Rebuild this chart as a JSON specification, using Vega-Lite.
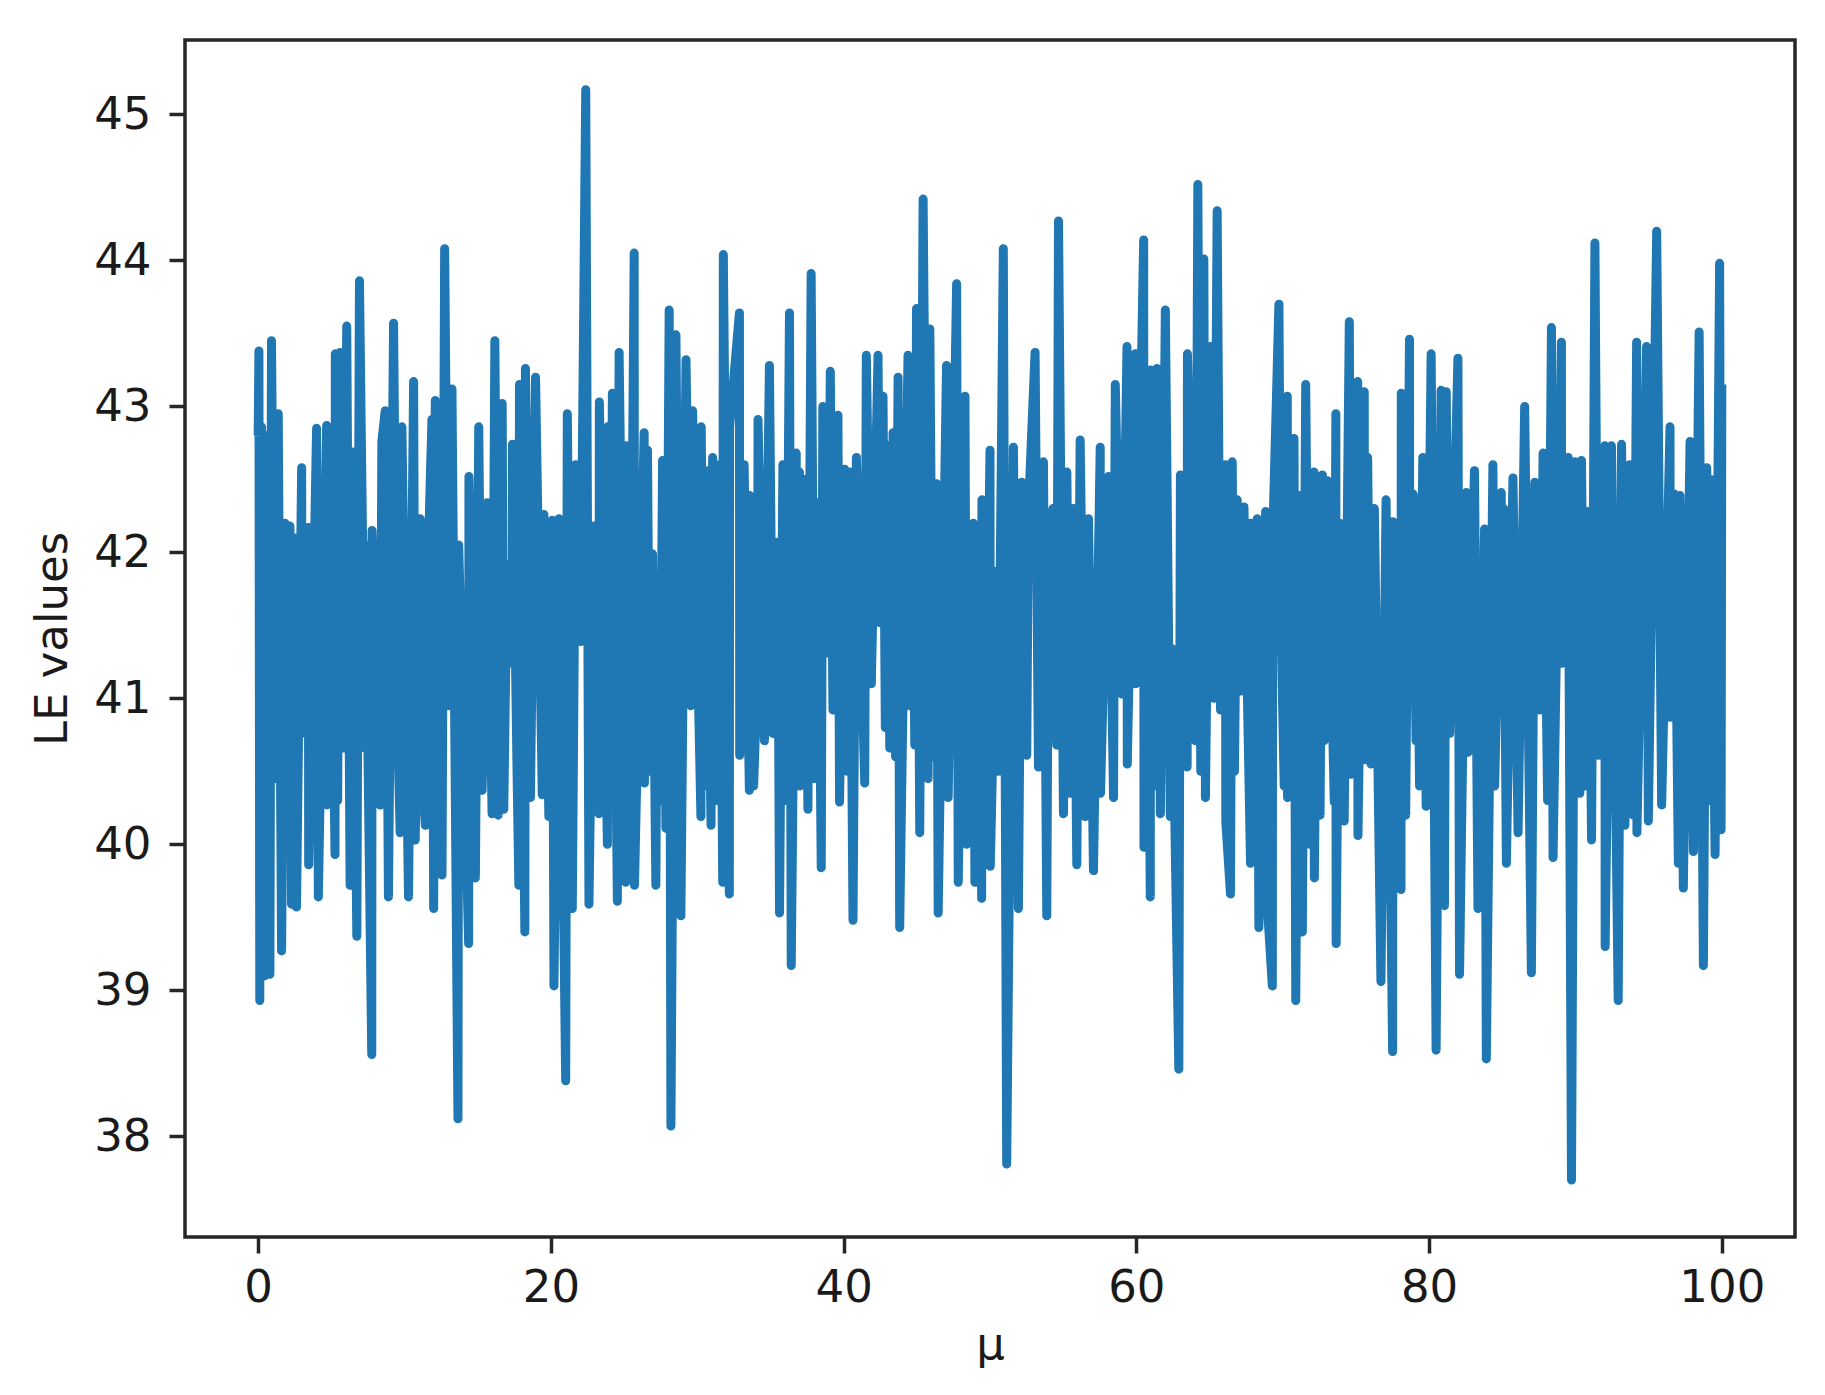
{
  "$schema": "https://vega.github.io/schema/vega-lite/v6.json",
  "width": 1610,
  "height": 1197,
  "autosize": {"type": "none"},
  "padding": {"left": 185, "top": 40, "right": 30, "bottom": 158},
  "background": "white",
  "config": {
    "view": {"stroke": "#262626", "strokeWidth": 3.5},
    "axis": {
      "labelFont": "DejaVu Sans", "labelFontSize": 45, "labelColor": "#1a1a1a",
      "titleFont": "DejaVu Sans", "titleFontSize": 45, "titleFontWeight": "normal", "titleColor": "#1a1a1a",
      "tickColor": "#262626", "tickWidth": 3.5, "tickSize": 16,
      "domain": false, "grid": false
    }
  },
  "data": {"values": [
    {"mu":0,"le":42.8},{"mu":0.05,"le":43.38},{"mu":0.11,"le":38.93},{"mu":0.23,"le":42.86},{"mu":0.45,"le":39.1},{"mu":0.65,"le":42.8},{"mu":0.8,"le":39.11},{"mu":0.91,"le":43.45},{"mu":1.14,"le":40.45},{"mu":1.37,"le":42.95},{"mu":1.6,"le":39.27},{"mu":1.83,"le":42.2},{"mu":2.0,"le":40.0},{"mu":2.17,"le":42.18},{"mu":2.28,"le":39.59},{"mu":2.45,"le":42.1},{"mu":2.62,"le":39.57},{"mu":2.97,"le":42.58},{"mu":2.99,"le":40.76},{"mu":3.43,"le":42.17},{"mu":3.45,"le":39.86},{"mu":3.99,"le":42.85},{"mu":4.11,"le":39.64},{"mu":4.68,"le":42.87},{"mu":4.7,"le":40.27},{"mu":4.91,"le":42.61},{"mu":5.25,"le":39.93},{"mu":5.27,"le":43.36},{"mu":5.43,"le":40.3},{"mu":5.59,"le":43.37},{"mu":5.82,"le":40.66},{"mu":6.05,"le":43.55},{"mu":6.28,"le":39.72},{"mu":6.39,"le":42.69},{"mu":6.74,"le":39.37},{"mu":6.92,"le":43.86},{"mu":7.3,"le":40.66},{"mu":7.32,"le":42.05},{"mu":7.76,"le":38.56},{"mu":7.78,"le":42.15},{"mu":8.33,"le":40.27},{"mu":8.45,"le":42.76},{"mu":8.68,"le":42.97},{"mu":8.9,"le":39.64},{"mu":9.25,"le":43.57},{"mu":9.47,"le":41.05},{"mu":9.7,"le":40.08},{"mu":9.82,"le":42.86},{"mu":10.27,"le":39.64},{"mu":10.62,"le":43.17},{"mu":10.73,"le":40.03},{"mu":11.07,"le":42.23},{"mu":11.09,"le":40.71},{"mu":11.42,"le":40.13},{"mu":11.64,"le":42.05},{"mu":11.87,"le":42.91},{"mu":11.99,"le":39.56},{"mu":12.1,"le":43.04},{"mu":12.56,"le":39.79},{"mu":12.74,"le":44.08},{"mu":13.01,"le":40.95},{"mu":13.24,"le":43.12},{"mu":13.65,"le":38.12},{"mu":13.7,"le":42.05},{"mu":14.38,"le":39.32},{"mu":14.4,"le":42.52},{"mu":14.84,"le":39.77},{"mu":15.07,"le":42.86},{"mu":15.3,"le":40.37},{"mu":15.64,"le":42.34},{"mu":15.98,"le":40.21},{"mu":16.17,"le":43.45},{"mu":16.4,"le":40.2},{"mu":16.67,"le":43.02},{"mu":16.78,"le":40.24},{"mu":17.01,"le":41.92},{"mu":17.35,"le":41.24},{"mu":17.37,"le":42.74},{"mu":17.69,"le":40.48},{"mu":17.81,"le":39.72},{"mu":17.85,"le":43.15},{"mu":18.22,"le":39.4},{"mu":18.26,"le":43.26},{"mu":18.6,"le":40.32},{"mu":18.95,"le":43.2},{"mu":19.41,"le":40.34},{"mu":19.52,"le":42.26},{"mu":19.86,"le":40.19},{"mu":20.09,"le":42.22},{"mu":20.21,"le":39.03},{"mu":20.55,"le":42.23},{"mu":21.01,"le":38.38},{"mu":21.12,"le":42.95},{"mu":21.46,"le":39.56},{"mu":21.69,"le":42.6},{"mu":22.03,"le":41.39},{"mu":22.38,"le":45.17},{"mu":22.6,"le":39.59},{"mu":22.95,"le":42.18},{"mu":23.29,"le":40.21},{"mu":23.31,"le":43.03},{"mu":23.86,"le":40.0},{"mu":23.88,"le":42.86},{"mu":24.05,"le":40.4},{"mu":24.2,"le":43.09},{"mu":24.54,"le":39.61},{"mu":24.66,"le":43.37},{"mu":25.11,"le":39.74},{"mu":25.13,"le":42.73},{"mu":25.4,"le":40.3},{"mu":25.69,"le":44.05},{"mu":25.71,"le":39.72},{"mu":26.37,"le":42.82},{"mu":26.39,"le":40.42},{"mu":26.6,"le":42.7},{"mu":26.75,"le":40.5},{"mu":26.94,"le":41.99},{"mu":27.17,"le":39.72},{"mu":27.28,"le":41.84},{"mu":27.45,"le":40.3},{"mu":27.63,"le":42.63},{"mu":27.86,"le":40.11},{"mu":28.08,"le":43.66},{"mu":28.2,"le":38.07},{"mu":28.54,"le":43.49},{"mu":28.88,"le":39.51},{"mu":29.23,"le":43.32},{"mu":29.57,"le":40.95},{"mu":29.68,"le":42.97},{"mu":30.25,"le":40.19},{"mu":30.27,"le":42.86},{"mu":30.45,"le":40.4},{"mu":30.6,"le":42.56},{"mu":30.94,"le":40.13},{"mu":31.05,"le":42.65},{"mu":31.3,"le":40.3},{"mu":31.5,"le":42.6},{"mu":31.74,"le":39.74},{"mu":31.78,"le":44.04},{"mu":32.19,"le":39.66},{"mu":32.21,"le":42.86},{"mu":32.88,"le":43.64},{"mu":32.9,"le":40.61},{"mu":33.2,"le":42.6},{"mu":33.56,"le":40.37},{"mu":33.58,"le":42.39},{"mu":33.85,"le":40.4},{"mu":34.13,"le":41.24},{"mu":34.15,"le":42.91},{"mu":34.59,"le":40.71},{"mu":34.93,"le":43.28},{"mu":35.16,"le":40.76},{"mu":35.5,"le":42.07},{"mu":35.62,"le":39.53},{"mu":35.85,"le":42.6},{"mu":36.05,"le":40.3},{"mu":36.3,"le":43.64},{"mu":36.42,"le":39.17},{"mu":36.76,"le":42.68},{"mu":36.78,"le":41.0},
    {"mu":36.98,"le":42.55},{"mu":37.0,"le":40.4},{"mu":37.3,"le":42.5},{"mu":37.56,"le":40.24},{"mu":37.78,"le":43.91},{"mu":38.01,"le":40.45},{"mu":38.24,"le":42.34},{"mu":38.47,"le":39.84},{"mu":38.58,"le":43.0},{"mu":38.93,"le":41.31},{"mu":39.09,"le":43.24},{"mu":39.27,"le":40.92},{"mu":39.61,"le":42.94},{"mu":39.72,"le":40.29},{"mu":40.07,"le":42.57},{"mu":40.24,"le":40.5},{"mu":40.41,"le":42.55},{"mu":40.64,"le":39.48},{"mu":40.87,"le":42.65},{"mu":41.44,"le":40.42},{"mu":41.55,"le":43.35},{"mu":41.89,"le":41.1},{"mu":42.35,"le":43.35},{"mu":42.46,"le":41.52},{"mu":42.69,"le":43.07},{"mu":42.85,"le":40.8},{"mu":43.03,"le":42.73},{"mu":43.15,"le":40.66},{"mu":43.38,"le":42.82},{"mu":43.55,"le":40.6},{"mu":43.72,"le":43.2},{"mu":43.83,"le":39.43},{"mu":44.4,"le":43.35},{"mu":44.52,"le":40.95},{"mu":44.7,"le":42.8},{"mu":44.86,"le":40.68},{"mu":44.98,"le":43.67},{"mu":45.2,"le":40.08},{"mu":45.43,"le":44.42},{"mu":45.77,"le":40.45},{"mu":45.89,"le":43.53},{"mu":46.1,"le":40.6},{"mu":46.35,"le":42.47},{"mu":46.46,"le":39.53},{"mu":47.03,"le":43.28},{"mu":47.14,"le":40.32},{"mu":47.72,"le":43.84},{"mu":47.83,"le":39.74},{"mu":48.29,"le":43.07},{"mu":48.4,"le":40.0},{"mu":48.86,"le":42.2},{"mu":48.97,"le":39.74},{"mu":49.2,"le":42.0},{"mu":49.43,"le":39.63},{"mu":49.45,"le":42.36},{"mu":49.7,"le":40.4},{"mu":50.0,"le":42.7},{"mu":50.02,"le":39.85},{"mu":50.46,"le":41.87},{"mu":50.57,"le":40.5},{"mu":50.91,"le":44.08},{"mu":51.14,"le":37.81},{"mu":51.6,"le":42.72},{"mu":51.94,"le":39.56},{"mu":52.17,"le":42.48},{"mu":52.51,"le":40.61},{"mu":52.62,"le":42.27},{"mu":53.08,"le":43.37},{"mu":53.31,"le":40.53},{"mu":53.65,"le":42.62},{"mu":53.88,"le":39.51},{"mu":53.99,"le":41.92},{"mu":54.3,"le":42.3},{"mu":54.56,"le":40.68},{"mu":54.68,"le":44.27},{"mu":55.02,"le":40.21},{"mu":55.25,"le":42.55},
    {"mu":55.47,"le":40.35},{"mu":55.7,"le":42.3},{"mu":55.93,"le":39.86},{"mu":56.16,"le":42.77},{"mu":56.5,"le":40.19},{"mu":56.73,"le":42.23},{"mu":57.07,"le":39.82},{"mu":57.53,"le":42.72},{"mu":57.55,"le":40.35},{"mu":58.1,"le":42.52},{"mu":58.44,"le":40.32},{"mu":58.56,"le":43.15},{"mu":59.01,"le":41.03},{"mu":59.36,"le":43.41},{"mu":59.38,"le":40.55},{"mu":59.93,"le":43.36},{"mu":59.95,"le":41.1},{"mu":60.5,"le":44.14},{"mu":60.52,"le":39.98},{"mu":60.75,"le":42.6},{"mu":60.95,"le":39.64},{"mu":60.97,"le":43.25},{"mu":61.2,"le":40.4},{"mu":61.41,"le":43.26},{"mu":61.64,"le":40.21},{"mu":61.98,"le":43.66},{"mu":62.32,"le":40.19},{"mu":62.44,"le":41.34},{"mu":62.9,"le":38.46},{"mu":63.01,"le":42.53},{"mu":63.47,"le":40.53},{"mu":63.49,"le":43.36},{"mu":64.04,"le":40.71},{"mu":64.2,"le":44.52},{"mu":64.4,"le":40.5},{"mu":64.61,"le":44.01},{"mu":64.72,"le":40.32},{"mu":65.06,"le":43.41},{"mu":65.29,"le":41.0},{"mu":65.52,"le":44.34},{"mu":65.75,"le":40.92},{"mu":66.09,"le":42.6},{"mu":66.11,"le":40.16},{"mu":66.43,"le":39.66},{"mu":66.55,"le":42.62},{"mu":66.7,"le":40.5},{"mu":66.89,"le":42.36},{"mu":67.12,"le":41.05},{"mu":67.35,"le":42.31},{"mu":67.8,"le":39.87},{"mu":67.82,"le":42.2},{"mu":68.05,"le":40.3},{"mu":68.26,"le":42.23},{"mu":68.37,"le":39.43},{"mu":68.83,"le":42.28},{"mu":68.85,"le":39.74},{"mu":69.29,"le":39.03},{"mu":69.31,"le":42.07},{"mu":69.74,"le":43.7},{"mu":69.86,"le":41.63},{"mu":70.1,"le":40.4},{"mu":70.31,"le":43.07},{"mu":70.33,"le":40.32},{"mu":70.77,"le":42.78},{"mu":70.89,"le":38.93},{"mu":71.12,"le":42.39},{"mu":71.34,"le":39.4},{"mu":71.57,"le":43.15},{"mu":71.85,"le":40.0},{"mu":72.14,"le":42.55},{"mu":72.16,"le":39.77},{"mu":72.4,"le":42.3},{"mu":72.55,"le":40.2},{"mu":72.71,"le":42.53},{"mu":72.83,"le":40.71},{"mu":73.05,"le":42.49},{"mu":73.52,"le":40.29},{"mu":73.63,"le":42.95},{"mu":73.65,"le":39.32},{"mu":73.9,"le":42.2},
    {"mu":74.2,"le":40.16},{"mu":74.55,"le":43.58},{"mu":74.66,"le":40.48},{"mu":75.12,"le":43.17},{"mu":75.14,"le":40.06},{"mu":75.57,"le":43.1},{"mu":75.59,"le":40.58},{"mu":75.8,"le":42.65},{"mu":76.03,"le":40.55},{"mu":76.26,"le":42.3},{"mu":76.71,"le":39.06},{"mu":77.06,"le":42.36},{"mu":77.51,"le":38.58},{"mu":77.53,"le":42.21},{"mu":78.08,"le":39.69},{"mu":78.1,"le":43.09},{"mu":78.4,"le":40.2},{"mu":78.66,"le":43.46},{"mu":78.68,"le":41.03},{"mu":78.9,"le":42.4},{"mu":79.11,"le":40.71},{"mu":79.13,"le":42.37},{"mu":79.35,"le":40.4},{"mu":79.57,"le":42.65},{"mu":79.8,"le":40.26},{"mu":80.14,"le":43.36},{"mu":80.48,"le":38.59},{"mu":80.82,"le":43.11},{"mu":81.05,"le":39.58},{"mu":81.17,"le":43.1},{"mu":81.4,"le":40.76},{"mu":81.7,"le":42.2},{"mu":81.97,"le":43.33},{"mu":82.08,"le":39.11},{"mu":82.54,"le":42.41},{"mu":82.65,"le":40.63},{"mu":83.1,"le":42.56},{"mu":83.34,"le":39.56},{"mu":83.79,"le":42.16},{"mu":83.91,"le":38.53},{"mu":84.36,"le":42.6},{"mu":84.48,"le":40.4},{"mu":84.93,"le":42.41},{"mu":84.95,"le":40.96},{"mu":85.1,"le":42.3},{"mu":85.28,"le":39.87},{"mu":85.73,"le":42.51},{"mu":86.08,"le":40.08},{"mu":86.53,"le":43.0},{"mu":86.99,"le":39.12},{"mu":87.22,"le":42.48},{"mu":87.56,"le":40.92},{"mu":87.79,"le":42.68},{"mu":88.1,"le":40.3},{"mu":88.36,"le":43.54},{"mu":88.47,"le":39.91},{"mu":89.04,"le":43.44},{"mu":89.06,"le":41.24},{"mu":89.5,"le":42.65},{"mu":89.73,"le":37.7},{"mu":89.96,"le":42.62},{"mu":90.3,"le":40.35},{"mu":90.41,"le":42.63},{"mu":90.65,"le":40.4},{"mu":90.87,"le":42.28},{"mu":91.1,"le":40.03},{"mu":91.33,"le":44.12},{"mu":91.56,"le":40.61},{"mu":92.01,"le":42.73},{"mu":92.03,"le":39.3},
    {"mu":92.46,"le":42.73},{"mu":92.92,"le":38.93},{"mu":93.15,"le":42.74},{"mu":93.38,"le":40.13},{"mu":93.7,"le":42.6},{"mu":93.95,"le":40.2},{"mu":94.18,"le":43.44},{"mu":94.2,"le":40.08},{"mu":94.86,"le":43.41},{"mu":94.98,"le":40.16},{"mu":95.55,"le":44.2},{"mu":95.89,"le":40.27},{"mu":96.46,"le":42.86},{"mu":96.48,"le":40.87},{"mu":96.75,"le":42.4},{"mu":97.03,"le":39.87},{"mu":97.14,"le":42.39},{"mu":97.37,"le":39.7},{"mu":97.83,"le":42.76},{"mu":98.06,"le":39.95},{"mu":98.45,"le":43.51},{"mu":98.74,"le":39.17},{"mu":98.97,"le":42.58},{"mu":99.1,"le":40.3},{"mu":99.25,"le":42.5},{"mu":99.54,"le":39.93},{"mu":99.85,"le":43.98},{"mu":99.95,"le":40.1},{"mu":100,"le":43.15}
  ]},
  "mark": {"type": "line", "color": "#1f77b4", "strokeWidth": 9, "strokeJoin": "round", "strokeCap": "butt", "clip": true},
  "encoding": {
    "x": {"field": "mu", "type": "quantitative", "title": "μ",
      "scale": {"domain": [-5, 105], "nice": false, "zero": false},
      "axis": {"values": [0, 20, 40, 60, 80, 100], "labelPadding": 12, "titlePadding": 12}},
    "y": {"field": "le", "type": "quantitative", "title": "LE values",
      "scale": {"domain": [37.31, 45.51], "nice": false, "zero": false},
      "axis": {"values": [38, 39, 40, 41, 42, 43, 44, 45], "labelPadding": 18, "titlePadding": 18}}
  }
}
